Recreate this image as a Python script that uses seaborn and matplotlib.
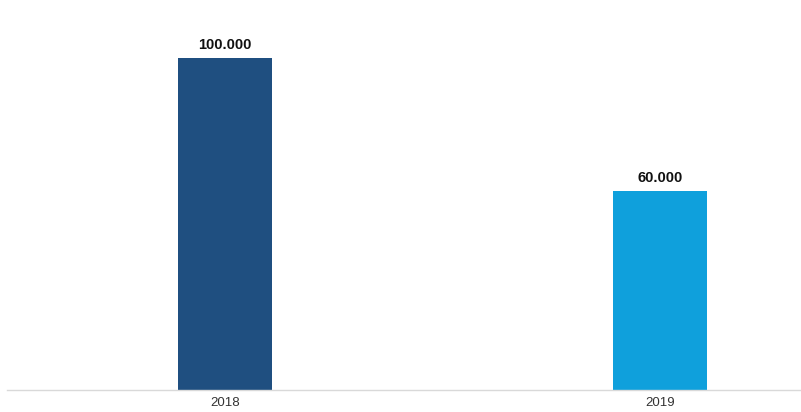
import matplotlib
matplotlib.use("Agg")
import matplotlib.pyplot as plt
import seaborn as sns
import pandas as pd

years = ["2018", "2019"]
values = [100000, 60000]
labels = ["100.000", "60.000"]
colors = ["#1f4f80", "#0fa0dc"]

sns.set_style("white")
plt.rcParams['font.family'] = ['Liberation Sans', 'DejaVu Sans']

W, H = 801, 412
fig = plt.figure(figsize=(W / 100, H / 100), dpi=100)
ax = fig.add_axes([7 / W, (H - 390) / H, (W - 7) / W, (390 - 20) / H])

df = pd.DataFrame({"year": years, "value": values})
sns.barplot(data=df, x="year", y="value", hue="year", palette=colors,
            width=0.218, legend=False, ax=ax, saturation=1, linewidth=0)

ax.set_xlim(-0.501, 1.324)
ax.set_ylim(0, 100000 * 370 / 332)
for i, (v, lab) in enumerate(zip(values, labels)):
    ax.annotate(lab, (i, v), xytext=(0, 4), textcoords="offset points",
                ha="center", va="bottom", fontsize=10.5, fontweight="bold", color="#111111")

ax.set_xlabel("")
ax.set_ylabel("")
ax.set_yticks([])
ax.tick_params(axis="x", length=0, pad=5, labelsize=9.5, labelcolor="#333333")
for s in ["top", "right", "left"]:
    ax.spines[s].set_visible(False)
ax.spines["bottom"].set_color("#d9d9d9")
ax.spines["bottom"].set_linewidth(1)

fig.savefig("out.png", dpi=100)
